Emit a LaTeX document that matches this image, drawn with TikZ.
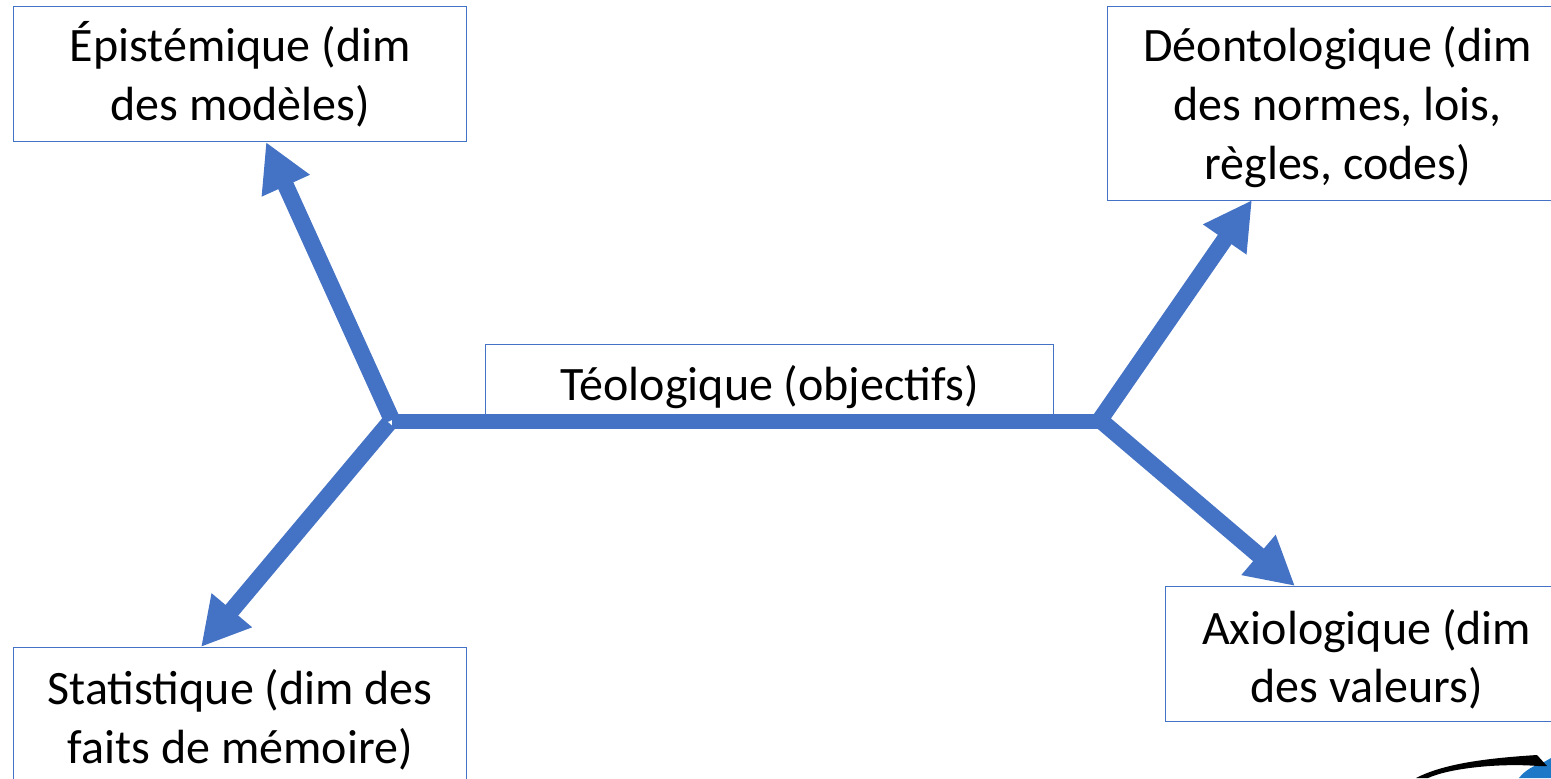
\documentclass[tikz,border=0pt]{standalone}
\usepackage{fontspec}
\setmainfont{Carlito}
\usetikzlibrary{arrows.meta}
\definecolor{officeblue}{HTML}{4472C4}
\definecolor{eyeblue}{HTML}{1E78C8}
\newcommand{\lifted}[1]{\rule{0pt}{#1}}
\tikzset{
  dimbox/.style={draw=officeblue,line width=1.1pt,fill=white,align=center,inner sep=0pt,anchor=north west,font=\fontsize{36}{44}\selectfont},
  spine/.style={draw=officeblue,line width=11.6pt},
  branch/.style={draw=officeblue,line width=12.4pt,-{Triangle[length=36pt,width=37pt]}}
}
\begin{document}
\begin{tikzpicture}[x=0.75pt,y=-0.75pt]
\useasboundingbox (0,0) rectangle (1551,778);
\clip (0,0) rectangle (1551,778);
% eye fragment
\fill[eyeblue] (1519,778) .. controls (1525,770) and (1535,765) .. (1544,762) -- (1551,758) -- (1551,778) -- cycle;
\fill[black] (1416,778) .. controls (1445,763) and (1490,758) .. (1537,755) -- (1547,766) -- (1538,766)
  .. controls (1500,763) and (1450,768) .. (1428,778) -- cycle;
% boxes
\node[dimbox,minimum width=339.75pt,minimum height=101.25pt] (epi) at (13,6) {Épistémique (dim\\des modèles)};
\node[dimbox,minimum width=345pt,minimum height=145.5pt] (deo) at (1107,6) {\lifted{31.5pt}Déontologique (dim\\des normes, lois,\\règles, codes)};
\node[dimbox,minimum width=426pt,minimum height=60pt] (teo) at (485,344) {\lifted{30pt}Téologique (objectifs)};
\node[dimbox,minimum width=339.75pt,minimum height=104pt] (sta) at (13,647) {\lifted{30pt}Statistique (dim des\\faits de mémoire)};
\node[dimbox,minimum width=301.5pt,minimum height=101.25pt] (axi) at (1165,586) {\lifted{33.75pt}Axiologique (dim\\des valeurs)};
% connectors
\coordinate (hubEpi) at (392,420);
\coordinate (hubSta) at (389,423);
\coordinate (hubDeo) at (1100.5,419);
\coordinate (hubAxi) at (1100,420);
\coordinate (hubL) at (392,421.5);
\coordinate (hubR) at (1101,421.5);
\coordinate (tipE) at (266,142);
\coordinate (tipS) at (201,647);
\coordinate (tipD) at (1252,200);
\coordinate (tipA) at (1295,586);
\draw[branch] (hubEpi) -- (tipE);
\draw[branch] (hubSta) -- (tipS);
\draw[branch] (hubDeo) -- (tipD);
\draw[branch] (hubAxi) -- (tipA);
\draw[spine] (hubL) -- (hubR);
\end{tikzpicture}
\end{document}
